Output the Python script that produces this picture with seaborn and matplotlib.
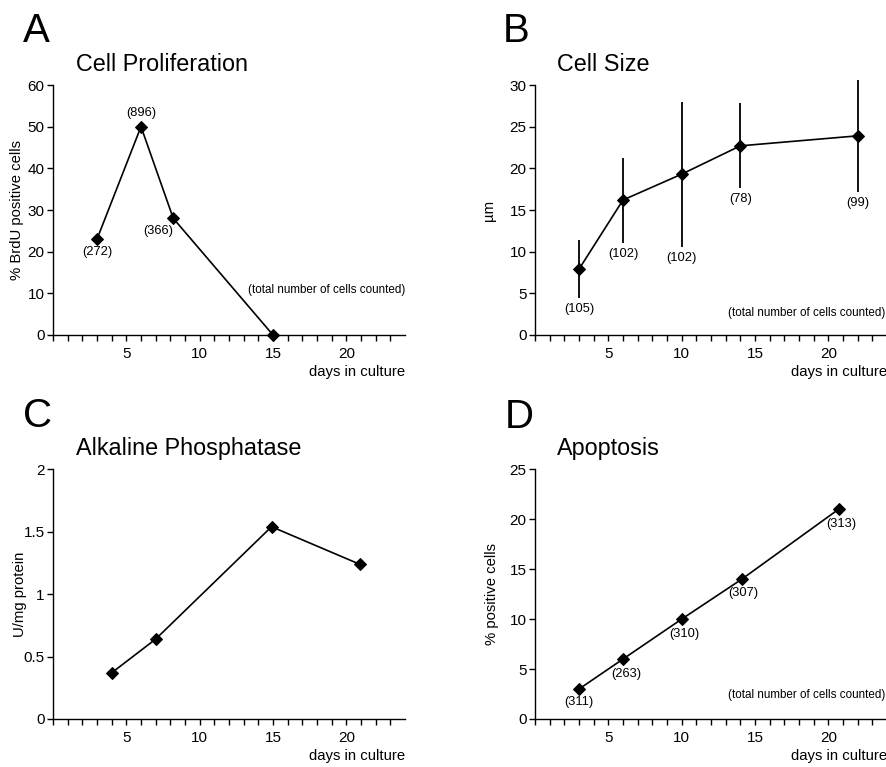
import seaborn as sns
import matplotlib.pyplot as plt
from matplotlib.ticker import FixedLocator, FuncFormatter

# data
prolif_days = [3, 6, 8.2, 15]
prolif_pct = [23, 50, 28, 0]
prolif_n = ["(272)", "(896)", "(366)", None]

size_days = [3, 6, 10, 14, 22]
size_um = [7.9, 16.2, 19.3, 22.7, 23.9]
size_err = [3.5, 5.1, 8.7, 5.1, 6.7]
size_n = ["(105)", "(102)", "(102)", "(78)", "(99)"]

alp_days = [4, 7, 14.9, 20.9]
alp_units = [0.37, 0.64, 1.54, 1.24]

apop_days = [3, 6, 10, 14.1, 20.7]
apop_pct = [3, 6, 10, 14, 21]
apop_n = ["(311)", "(263)", "(310)", "(307)", "(313)"]

sns.set_style("ticks")
plt.rcParams['font.family'] = ['Liberation Sans', 'DejaVu Sans']
plt.rcParams['text.color'] = 'black'
plt.rcParams['axes.labelcolor'] = 'black'
plt.rcParams['xtick.color'] = 'black'
plt.rcParams['ytick.color'] = 'black'

fig = plt.figure(figsize=(8.87, 7.67), dpi=100)

W, H = 887, 767
def add_axes(left, top, right, bottom):
    return fig.add_axes([left / W, 1 - bottom / H, (right - left) / W, (bottom - top) / H])

axA = add_axes(53, 85, 405, 335)
axB = add_axes(535, 85, 887, 335)
axC = add_axes(53, 469.3, 405, 719)
axD = add_axes(535, 469.3, 887, 719)

line_kw = dict(color='black', marker='D', markersize=6.5, markeredgecolor='black',
               linewidth=1.2, clip_on=False, zorder=4)


def style(ax, ymax, ystep, ylabel, label_x):
    ax.set_xlim(0, 24)
    ax.set_ylim(0, ymax)
    ax.xaxis.set_major_locator(FixedLocator([5, 10, 15, 20]))
    ax.xaxis.set_minor_locator(FixedLocator([i for i in range(0, 24) if i % 5 != 0 or i == 0]))
    yt = [i * ystep for i in range(int(round(ymax / ystep)) + 1)]
    ax.yaxis.set_major_locator(FixedLocator(yt))
    ax.yaxis.set_major_formatter(FuncFormatter(lambda v, p: '%g' % v))
    ax.tick_params(axis='both', which='both', direction='out', length=4.5, width=1,
                   color='black', labelsize=11, labelcolor='black')
    ax.tick_params(axis='x', which='major', pad=4)
    ax.tick_params(axis='y', which='major', pad=1.5)
    for s in ['left', 'bottom']:
        ax.spines[s].set_linewidth(1)
        ax.spines[s].set_color('black')
    sns.despine(ax=ax)
    ax.set_xlabel('days in culture', fontsize=10.7, loc='right', labelpad=3)
    ax.set_ylabel(ylabel, fontsize=10.7)
    ax.yaxis.set_label_coords(label_x, 0.5)


# A: Cell Proliferation
sns.lineplot(x=prolif_days, y=prolif_pct, ax=axA, **line_kw)
style(axA, 60, 10, '% BrdU positive cells', -0.082)
offsA = [(0, -12.5), (0, 14), (-15, -12.5)]
for d, v, t, o in zip(prolif_days, prolif_pct, prolif_n, offsA):
    axA.annotate(t, (d, v), xytext=o, textcoords='offset pixels', ha='center',
                 va='center', fontsize=9.3)
axA.text(24, 10.8, '(total number of cells counted)', ha='right', va='center', fontsize=8.4)

# B: Cell Size
axB.errorbar(size_days, size_um, yerr=size_err, fmt='none', ecolor='black',
             elinewidth=1.3, capsize=0, clip_on=False, zorder=3)
sns.lineplot(x=size_days, y=size_um, ax=axB, **line_kw)
style(axB, 30, 5, 'µm', -0.112)
for d, v, e, t in zip(size_days, size_um, size_err, size_n):
    axB.annotate(t, (d, v - e), xytext=(0, -11), textcoords='offset pixels', ha='center',
                 va='center', fontsize=9.3)
axB.text(23.9, 2.64, '(total number of cells counted)', ha='right', va='center', fontsize=8.4)

# C: Alkaline Phosphatase
sns.lineplot(x=alp_days, y=alp_units, ax=axC, **line_kw)
style(axC, 2, 0.5, 'U/mg protein', -0.074)

# D: Apoptosis
sns.lineplot(x=apop_days, y=apop_pct, ax=axD, **line_kw)
style(axD, 25, 5, '% positive cells', -0.102)
offsD = [(0, -13), (3, -15), (3, -14.6), (2, -14), (3, -15)]
for d, v, t, o in zip(apop_days, apop_pct, apop_n, offsD):
    axD.annotate(t, (d, v), xytext=o, textcoords='offset pixels', ha='center',
                 va='center', fontsize=9.3)
axD.text(23.9, 2.37, '(total number of cells counted)', ha='right', va='center', fontsize=8.4)

# panel letters and titles
for letter, x, y in [('A', 23, 41.7), ('B', 503, 41.7), ('C', 23, 426.7), ('D', 505, 428)]:
    fig.text(x / W, 1 - y / H, letter, fontsize=29, va='baseline', ha='left')
for title, x, y in [('Cell Proliferation', 76, 71), ('Cell Size', 557, 71),
                    ('Alkaline Phosphatase', 76, 455), ('Apoptosis', 557, 455)]:
    fig.text(x / W, 1 - y / H, title, fontsize=16.8, va='baseline', ha='left')

fig.savefig('out.png', dpi=100, facecolor='white')
